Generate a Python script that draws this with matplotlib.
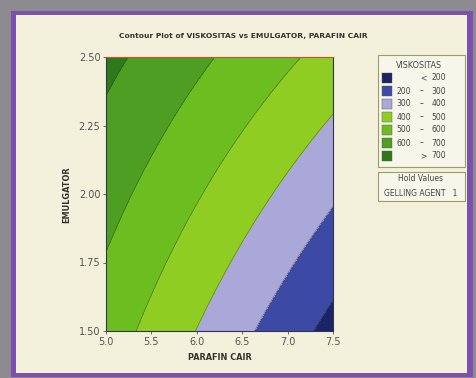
import matplotlib
matplotlib.use("Agg")
import matplotlib.pyplot as plt
from matplotlib.patches import Rectangle
import numpy as np

# ---------- data ----------
# points lying on each contour boundary (PARAFIN CAIR, EMULGATOR)
levels = [200, 300, 400, 500, 600, 700]
boundary_x = {
    700: [5.24, 5.00],
    600: [6.20, 5.59, 5.37, 5.00],
    500: [7.10, 6.70, 6.26, 5.81, 5.36],
    400: [7.50, 6.99, 6.51, 6.00],
    300: [7.50, 7.14, 6.63],
    200: [7.50, 7.28],
}
boundary_y = {
    700: [2.50, 2.36],
    600: [2.50, 2.16, 2.05, 1.82],
    500: [2.50, 2.31, 2.12, 1.87, 1.50],
    400: [2.29, 2.04, 1.84, 1.50],
    300: [1.94, 1.82, 1.50],
    200: [1.61, 1.50],
}
legend_lo = ["<", "200", "300", "400", "500", "600", ">"]
legend_hi = ["200", "300", "400", "500", "600", "700", "700"]
band_colors = ["#1c2468", "#3c4aa5", "#aaa8d8", "#8fcd22", "#6cbd20", "#4d9e22", "#2f7a18"]

x_ticks = [5.0, 5.5, 6.0, 6.5, 7.0, 7.5]
y_ticks = [1.50, 1.75, 2.00, 2.25, 2.50]

# ---------- fit a quadratic response surface through the boundary points ----------
px, py, pz = [], [], []
for lv in levels:
    px += boundary_x[lv]
    py += boundary_y[lv]
    pz += [lv] * len(boundary_x[lv])
px, py, pz = np.array(px), np.array(py), np.array(pz, dtype=float)
A = np.column_stack([np.ones_like(px), px, py, px**2, py**2, px * py])
coef, *_ = np.linalg.lstsq(A, pz, rcond=None)

gx, gy = np.meshgrid(np.linspace(5.0, 7.5, 300), np.linspace(1.5, 2.5, 300))
gz = coef[0] + coef[1]*gx + coef[2]*gy + coef[3]*gx**2 + coef[4]*gy**2 + coef[5]*gx*gy

# ---------- figure ----------
W, H = 477, 378
fig = plt.figure(figsize=(W/100, H/100), dpi=100)
fig.patch.set_facecolor("#8d8b90")

def fx(p):
    return p / W

def fy(p):
    return 1 - p / H

# purple frame + cream panel
fig.patches.append(Rectangle((fx(11), fy(377)), fx(462), 366/H, transform=fig.transFigure,
                             facecolor="#7d4fae", edgecolor="none", zorder=-3))
fig.patches.append(Rectangle((fx(16), fy(373)), fx(451), 358/H, transform=fig.transFigure,
                             facecolor="#f3f1dc", edgecolor="none", zorder=-2))

ax = fig.add_axes([fx(106), fy(331), fx(333) - fx(106), fy(57) - fy(331)])
ax.set_zorder(2)
ax.contourf(gx, gy, gz, levels=[-1e9] + levels + [1e9], colors=band_colors)
ax.contour(gx, gy, gz, levels=levels, colors="#2a3a10", linewidths=0.4, alpha=0.6)
ax.set_xlim(5.0, 7.5)
ax.set_ylim(1.5, 2.5)
ax.set_xticks(x_ticks)
ax.set_xticklabels([f"{t:.1f}" for t in x_ticks])
ax.set_yticks(y_ticks)
ax.set_yticklabels([f"{t:.2f}" for t in y_ticks])
ax.tick_params(labelsize=7, colors="#555555", length=2.5, width=0.6, pad=1.5)
for s in ax.spines.values():
    s.set_linewidth(0.8)
    s.set_color("#333355")
ax.spines["top"].set_color("#d0502a")

fig.text(fx(243), fy(36), "Contour Plot of VISKOSITAS vs EMULGATOR, PARAFIN CAIR",
         ha="center", va="center", fontsize=5.4, fontweight="bold", color="#333333")
fig.text(fx(220), fy(357), "PARAFIN CAIR", ha="center", va="center",
         fontsize=5.9, fontweight="bold", color="#333333")
fig.text(fx(67), fy(195), "EMULGATOR", ha="center", va="center", rotation=90,
         fontsize=5.9, fontweight="bold", color="#333333")

# legend box
fig.patches.append(Rectangle((fx(378), fy(167)), fx(465) - fx(378), (167 - 55)/H,
                             transform=fig.transFigure, facecolor="#f7f6ea",
                             edgecolor="#9aa060", linewidth=0.8, zorder=1))
fig.text(fx(419), fy(65), "VISKOSITAS", ha="center", va="center", fontsize=5.8, color="#444444")
row_y = [78, 91, 104, 117, 130, 143, 156]
for lo, hi, col, ry in zip(legend_lo, legend_hi, band_colors, row_y):
    fig.patches.append(Rectangle((fx(382), fy(ry + 5)), fx(10), 10/H, transform=fig.transFigure,
                                 facecolor=col, edgecolor="#555555", linewidth=0.3, zorder=1))
    if lo in ("<", ">"):
        fig.text(fx(423), fy(ry), lo, ha="center", va="center", fontsize=5.5, color="#444444")
    else:
        fig.text(fx(404), fy(ry), lo, ha="center", va="center", fontsize=5.5, color="#444444")
        fig.text(fx(422), fy(ry), "\u2013", ha="center", va="center", fontsize=5.5, color="#444444")
    fig.text(fx(439), fy(ry), hi, ha="center", va="center", fontsize=5.5, color="#444444")

# hold values box
fig.patches.append(Rectangle((fx(378), fy(201)), fx(465) - fx(378), (201 - 172)/H,
                             transform=fig.transFigure, facecolor="#f7f6ea",
                             edgecolor="#9aa060", linewidth=0.8, zorder=1))
fig.text(fx(421), fy(179), "Hold Values", ha="center", va="center", fontsize=5.5, color="#444444")
fig.text(fx(421), fy(193), "GELLING AGENT   1", ha="center", va="center", fontsize=5.5, color="#444444")

fig.savefig("out.png", dpi=100, facecolor=fig.get_facecolor())
